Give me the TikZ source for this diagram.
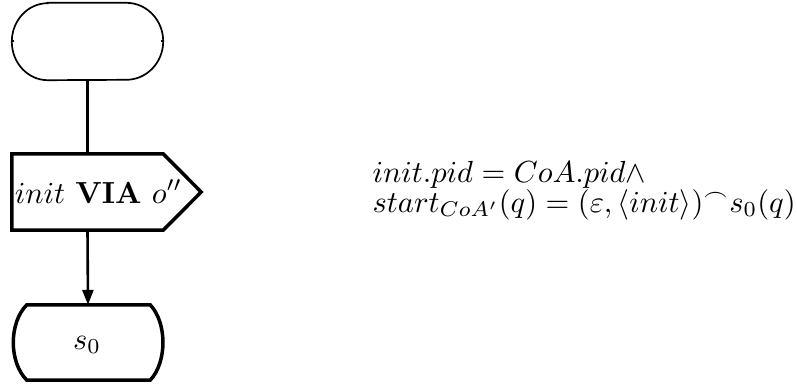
\documentclass[tikz,border=0pt]{standalone}
\usepackage{amsmath,amssymb}
\usetikzlibrary{arrows.meta}
\begin{document}
\begin{tikzpicture}[x=1pt,y=1pt,
  box/.style={draw=none,inner sep=0pt},
  thinshape/.style={line width=1.7pt},
  thickshape/.style={line width=3.5pt,line join=miter},
  conn/.style={line width=2.6pt},
  txt/.style={inner sep=0pt,font=\normalsize,scale=3.05}]
\useasboundingbox (0,0) rectangle (797,-385);
% nodes (invisible boxes used as anchors)
\node[box,minimum width=151pt,minimum height=77pt] (start) at (87.5,-41.5) {};
\node[box,minimum width=151pt,minimum height=76pt] (via) at (87.5,-192) {};
\node[box,minimum width=152pt,minimum height=75pt] (s0box) at (88,-342.5) {};
% start terminal
\draw[thinshape] ([xshift=36pt]start.north west) -- ([xshift=-37pt]start.north east)
  arc (90:-90:37pt and 38.5pt) -- ([xshift=36pt]start.south west)
  arc (270:90:36pt and 38.5pt) -- cycle;
\draw[line width=2pt] (start.west) -- ++(2,0);
\draw[line width=2pt] (start.east) -- ++(-2,0);
% via pentagon
\draw[thickshape] (via.north west) -- (via.north east) -- ([xshift=38pt]via.east) -- (via.south east) -- (via.south west) -- cycle;
\node[txt,anchor=base] (vialabel) at (98.5,-203) {$init$ \textbf{VIA} $o''$};
% s0 shape
\draw[thickshape] ([xshift=15pt]s0box.north west) -- ([xshift=-14pt]s0box.north east)
  .. controls ([xshift=3pt,yshift=-18pt]s0box.north east) and ([xshift=3pt,yshift=18pt]s0box.south east) .. ([xshift=-14pt]s0box.south east)
  -- ([xshift=15pt]s0box.south west)
  .. controls ([xshift=-3pt,yshift=18pt]s0box.south west) and ([xshift=-3pt,yshift=-18pt]s0box.north west) .. ([xshift=15pt]s0box.north west) -- cycle;
\node[txt,anchor=base] (s0) at (87,-349) {$s_0$};
% connectors
\draw[conn] (start.south) -- (via.north);
\draw[conn,-{Triangle[length=15pt,width=11pt]}] (via.south) -- (s0box.north);
% formula
\node[txt,anchor=base west] (eq1) at (372,-182) {$init.pid = CoA.pid\wedge$};
\node[txt,anchor=base west] (eq2) at (372,-212) {$start_{CoA'}(q) = (\varepsilon,\langle init\rangle)^\frown s_0(q)$};
\end{tikzpicture}
\end{document}
